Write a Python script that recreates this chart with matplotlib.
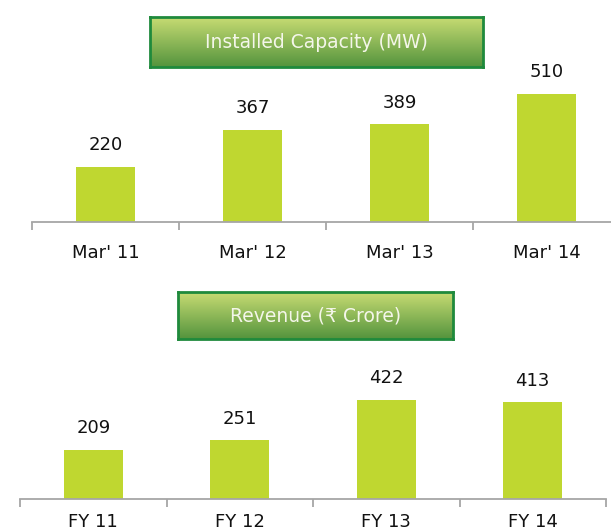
import matplotlib
matplotlib.use("Agg")
import matplotlib.pyplot as plt
import numpy as np

# chart data
cap_labels = ["Mar' 11", "Mar' 12", "Mar' 13", "Mar' 14"]
cap_values = [220, 367, 389, 510]
rev_labels = ["FY 11", "FY 12", "FY 13", "FY 14"]
rev_values = [209, 251, 422, 413]

BAR = "#bfd730"
AXIS = "#a6a6a6"

plt.rcParams['font.family'] = ['DejaVu Sans']

fig = plt.figure(figsize=(6.11, 5.31), dpi=100)


def bar_panel(rect, labels, values, ymax, pad):
    """ draw one bar panel with category boundary ticks """
    ax = fig.add_axes(rect)
    x = np.arange(len(values))
    ax.bar(x, values, width=0.4, color=BAR)
    for xi, v in zip(x, values):
        ax.annotate(str(v), (xi, v), xytext=(0, 9), textcoords="offset points",
                    ha="center", va="bottom", fontsize=13, color="#111111")
    ax.set_xlim(-0.5, len(values) - 0.5)
    ax.set_ylim(0, ymax)
    for s in ["top", "right", "left"]:
        ax.spines[s].set_visible(False)
    ax.spines["bottom"].set_color(AXIS)
    ax.spines["bottom"].set_linewidth(1.3)
    ax.set_yticks([])
    ax.set_xticks(np.arange(-0.5, len(values) + 0.5, 1.0))
    ax.set_xticklabels([])
    ax.tick_params(axis="x", which="major", direction="out", length=6,
                   width=1.3, color=AXIS)
    ax.set_xticks(x, minor=True)
    ax.set_xticklabels(labels, minor=True, fontsize=13, color="#111111")
    ax.tick_params(axis="x", which="minor", length=0, pad=pad)
    return ax


def title_box(rect, text):
    """ green gradient header box """
    ax = fig.add_axes(rect)
    grad = np.linspace(0, 1, 100).reshape(-1, 1)
    top = np.array([0.78, 0.86, 0.45])
    bot = np.array([0.33, 0.58, 0.24])
    img = top[None, None, :] * (1 - grad[:, :, None]) + bot[None, None, :] * grad[:, :, None]
    ax.imshow(img, aspect="auto", extent=[0, 1, 0, 1])
    ax.set_xticks([])
    ax.set_yticks([])
    for s in ax.spines.values():
        s.set_color("#1f8a3c")
        s.set_linewidth(2)
    ax.text(0.5, 0.5, text, ha="center", va="center", fontsize=13.5,
            color="#f4f6ea", transform=ax.transAxes)


bar_panel([32 / 611, 1 - 222 / 531, 588 / 611, 150.6 / 531], cap_labels, cap_values, 600, 16)
bar_panel([20 / 611, 1 - 499 / 531, 586 / 611, 117.3 / 531], rev_labels, rev_values, 500, 10)

title_box([150 / 611, 1 - 67 / 531, 333 / 611, 50 / 531], "Installed Capacity (MW)")
title_box([178 / 611, 1 - 339 / 531, 275 / 611, 47 / 531], "Revenue (\u20b9 Crore)")

fig.savefig("out.png", dpi=100)
